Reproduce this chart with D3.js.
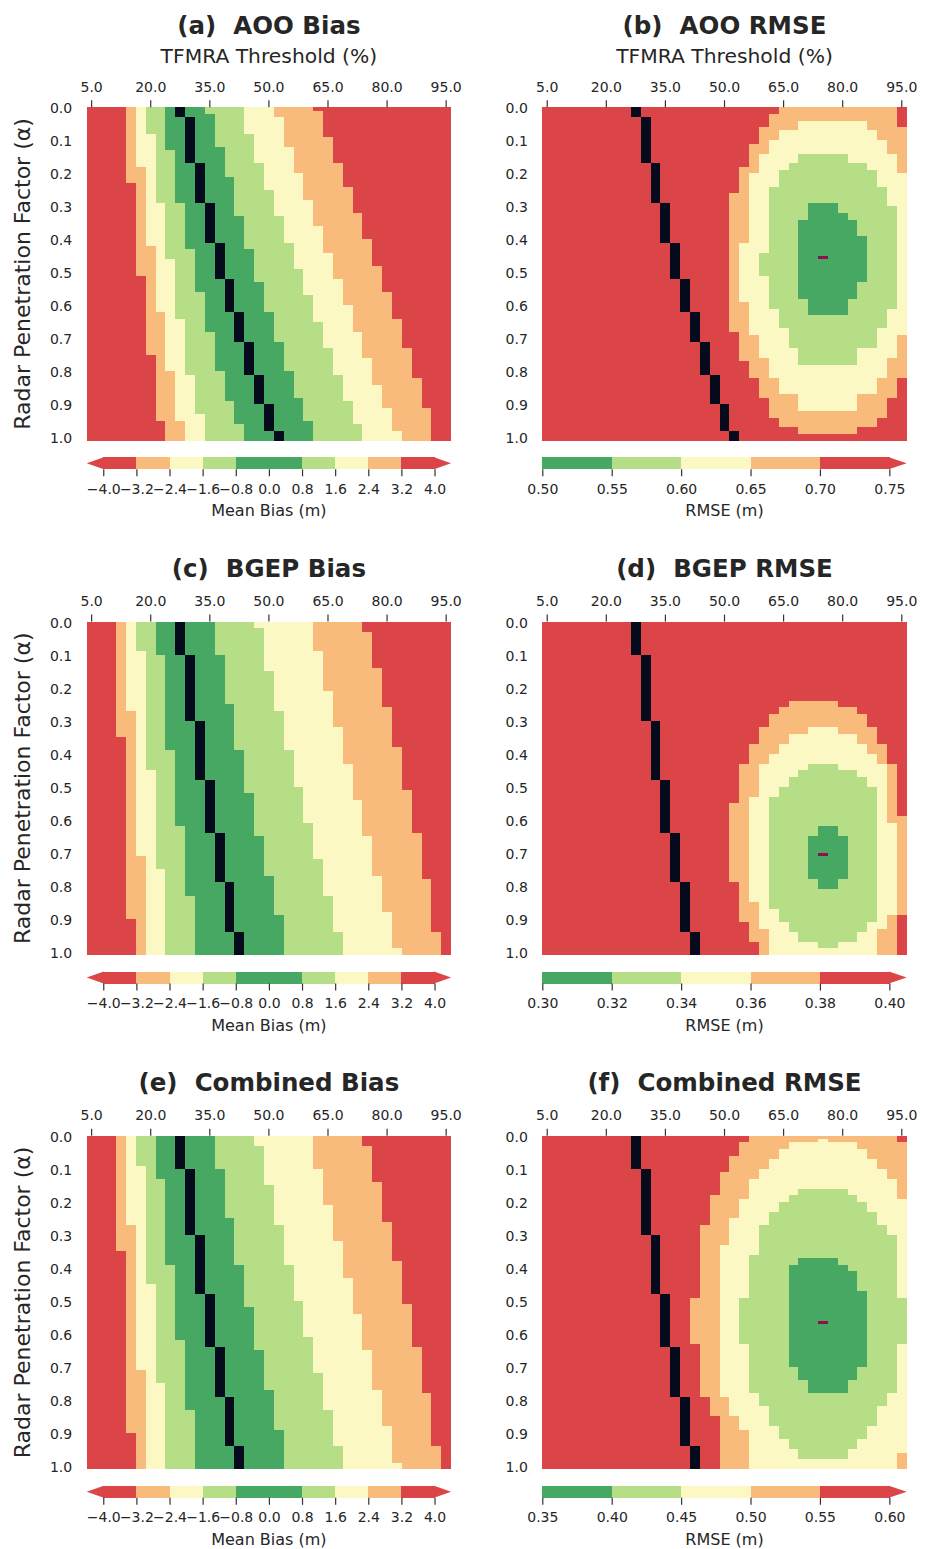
<!DOCTYPE html>
<html><head><meta charset="utf-8">
<script src="https://cdn.jsdelivr.net/npm/d3@7"></script>
<style>
body{margin:0;background:#fff}
svg{display:block}
text{font-family:"DejaVu Sans",sans-serif;fill:#262626}
</style>
</head><body>
<svg id="chart" width="929" height="1549"></svg>
<script>
// ---------------- categories ----------------
const thresholds = [5.0,7.5,10.0,12.5,15.0,17.5,20.0,22.5,25.0,27.5,30.0,32.5,35.0,37.5,40.0,42.5,45.0,47.5,50.0,52.5,55.0,57.5,60.0,62.5,65.0,67.5,70.0,72.5,75.0,77.5,80.0,82.5,85.0,87.5,90.0,92.5,95.0];
const alphas = [0.00,0.01,0.02,0.03,0.04,0.05,0.06,0.07,0.08,0.09,0.1,0.11,0.12,0.13,0.14,0.15,0.16,0.17,0.18,0.19,0.2,0.21,0.22,0.23,0.24,0.25,0.26,0.27,0.28,0.29,0.3,0.31,0.32,0.33,0.34,0.35,0.36,0.37,0.38,0.39,0.4,0.41,0.42,0.43,0.44,0.45,0.46,0.47,0.48,0.49,0.5,0.51,0.52,0.53,0.54,0.55,0.56,0.57,0.58,0.59,0.6,0.61,0.62,0.63,0.64,0.65,0.66,0.67,0.68,0.69,0.7,0.71,0.72,0.73,0.74,0.75,0.76,0.77,0.78,0.79,0.8,0.81,0.82,0.83,0.84,0.85,0.86,0.87,0.88,0.89,0.9,0.91,0.92,0.93,0.94,0.95,0.96,0.97,0.98,0.99,1.0];
const xTickValues = [5.0,20.0,35.0,50.0,65.0,80.0,95.0];
const yTickValues = [0.0,0.1,0.2,0.3,0.4,0.5,0.6,0.7,0.8,0.9,1.0];

// colour bar levels
const biasLevels = [-4.0,-3.2,-2.4,-1.6,-0.8,0.0,0.8,1.6,2.4,3.2,4.0];
const aooRmseLevels = [0.50,0.55,0.60,0.65,0.70,0.75];
const bgepRmseLevels = [0.30,0.32,0.34,0.36,0.38,0.40];
const combRmseLevels = [0.35,0.40,0.45,0.50,0.55,0.60];

// ---------------- bias class boundaries ----------------
// each boundary: [alpha row index, first threshold column index of next class]
const aooBiasEdges = [
  [[0,4],[23,5],[51,6],[75,7],[95,8]],
  [[0,5],[18,6],[42,7],[62,8],[80,9],[95,10]],
  [[0,6],[8,7],[29,8],[46,9],[64,10],[81,11],[93,12]],
  [[0,8],[13,9],[29,10],[43,11],[56,12],[68,13],[80,14],[89,15],[96,16]],
  [[0,12],[2,13],[12,14],[21,15],[33,16],[43,17],[53,18],[62,19],[71,20],[80,21],[88,22],[95,23]],
  [[0,16],[8,17],[17,18],[25,19],[33,20],[41,21],[49,22],[57,23],[65,24],[73,25],[81,26],[89,27],[96,28]],
  [[0,19],[3,20],[12,21],[20,22],[28,23],[36,24],[44,25],[52,26],[60,27],[68,28],[76,29],[84,30],[91,31],[98,32]],
  [[0,23],[1,24],[9,25],[17,26],[24,27],[32,28],[40,29],[48,30],[56,31],[64,32],[73,33],[82,34],[91,35]]
];
const aooZeroBias = [[0,9],[3,10],[17,11],[29,12],[41,13],[52,14],[62,15],[71,16],[81,17],[90,18],[98,19]];

const bgepBiasEdges = [
  [[0,3],[35,4],[90,5]],
  [[0,4],[27,5],[71,6]],
  [[0,5],[9,6],[45,7],[75,8]],
  [[0,7],[10,8],[39,9],[62,10],[83,11]],
  [[0,13],[10,14],[25,15],[39,16],[52,17],[65,18],[77,19],[89,20]],
  [[0,17],[2,18],[15,19],[27,20],[39,21],[50,22],[61,23],[72,24],[83,25],[94,26]],
  [[0,23],[9,24],[21,25],[32,26],[43,27],[54,28],[65,29],[77,30],[88,31],[99,32]],
  [[0,28],[3,29],[14,30],[26,31],[38,32],[51,33],[64,34],[78,35],[94,36]]
];
const bgepZeroBias = [[0,9],[10,10],[30,11],[48,12],[64,13],[79,14],[94,15]];

const combBiasEdges = [
  [[0,3],[35,4],[90,5]],
  [[0,4],[27,5],[71,6]],
  [[0,5],[9,6],[45,7],[75,8]],
  [[0,7],[13,8],[39,9],[62,10],[83,11]],
  [[0,13],[10,14],[25,15],[39,16],[52,17],[65,18],[77,19],[89,20]],
  [[0,17],[3,18],[15,19],[27,20],[39,21],[50,22],[61,23],[72,24],[83,25],[94,26]],
  [[0,23],[10,24],[21,25],[32,26],[43,27],[54,28],[65,29],[77,30],[88,31],[99,32]],
  [[0,28],[3,29],[14,30],[26,31],[38,32],[51,33],[64,34],[78,35],[94,36]]
];
const combZeroBias = [[0,9],[10,10],[30,11],[48,12],[64,13],[79,14],[94,15]];

// ---------------- RMSE class regions ----------------
// [row start, row end, col start, col end] (inclusive) where RMSE is below the level's upper bound
const aooRmseOrange = [[0,1,24,35],[2,5,23,35],[6,10,22,36],[11,17,21,36],[18,25,20,36],[26,67,19,36],[68,76,20,36],[77,81,21,36],[82,87,22,35],[88,93,23,34],[94,96,24,33],[97,98,26,31]];
const aooRmseYellow = [[4,6,26,32],[7,9,24,33],[10,13,23,34],[14,19,22,35],[20,40,21,36],[41,58,20,36],[59,68,21,36],[69,75,22,35],[76,81,23,34],[82,86,24,33],[87,91,26,31]];
const aooRmseLightGreen = [[14,16,26,30],[17,18,25,32],[19,23,24,33],[24,29,23,34],[30,43,23,35],[44,50,22,35],[51,60,23,35],[61,66,24,34],[67,72,25,33],[73,77,26,31]];
const aooRmseGreen = [[29,31,27,29],[32,33,27,30],[34,38,26,31],[39,52,26,32],[53,57,26,31],[58,62,27,30]];
const aooRmseMin = [45,28];

const bgepRmseOrange = [[24,25,25,29],[26,27,24,31],[28,31,23,32],[32,36,22,33],[37,42,21,34],[43,54,20,35],[55,58,19,35],[59,78,19,36],[79,88,20,36],[89,90,20,35],[91,96,21,35],[97,100,22,35]];
const bgepRmseYellow = [[32,33,27,29],[34,36,25,31],[37,39,24,32],[40,42,23,33],[43,52,22,34],[53,60,21,34],[61,84,21,35],[85,88,22,35],[89,92,22,34],[93,100,23,33]];
const bgepRmseLightGreen = [[43,44,27,29],[45,46,26,31],[47,49,25,32],[50,52,24,33],[53,86,23,33],[87,90,24,33],[91,93,25,32],[94,96,26,31],[97,98,28,29]];
const bgepRmseGreen = [[62,64,28,29],[65,77,27,30],[78,80,28,29]];
const bgepRmseMin = [70,28];

const combRmseOrange = [[0,1,21,35],[2,5,20,36],[6,10,19,36],[11,17,18,36],[18,26,17,36],[27,48,16,36],[49,62,15,36],[63,78,16,36],[79,84,17,36],[85,100,18,36]];
const combRmseYellow = [[1,1,28,28],[2,3,25,31],[4,6,24,32],[7,9,23,33],[10,12,22,34],[13,18,21,35],[19,24,20,36],[25,32,19,36],[33,78,18,36],[79,84,19,36],[85,88,20,36],[89,95,21,36],[96,100,21,35]];
const combRmseLightGreen = [[16,17,26,30],[18,19,25,31],[20,22,24,32],[23,26,23,33],[27,29,22,34],[30,35,22,35],[36,48,21,35],[49,62,20,36],[63,77,21,35],[78,81,22,34],[82,87,23,33],[88,91,24,32],[92,94,25,31],[95,97,26,30]];
const combRmseGreen = [[37,38,26,29],[39,40,25,30],[41,46,25,31],[47,69,25,32],[70,73,26,31],[74,77,27,30]];
const combRmseMin = [56,28];

// ---------------- styles ----------------
const RED = "#dc4547", ORANGE = "#f9bb7c", YELLOW = "#fbf8c4", LGREEN = "#b6de87", GREEN = "#47a863";
const ZERO_COLOR = "#050a1c", MIN_COLOR = "#8e1050";
const biasClassColors = [RED, ORANGE, YELLOW, LGREEN, GREEN, LGREEN, YELLOW, ORANGE, RED];
const biasBinColors = [RED, ORANGE, YELLOW, LGREEN, GREEN, GREEN, LGREEN, YELLOW, ORANGE, RED];
const rmseClassColors = [GREEN, LGREEN, YELLOW, ORANGE, RED];

const plotW = 364.4, plotH = 333.3;
const colX = [86.7, 542.3];
const rowY = [107.3, 621.6, 1135.8];

const svg = d3.select("#chart");

function colAt(edge, r){ let c = edge[0][1]; for (const [rr,cc] of edge) if (rr <= r) c = cc; return c; }
function biasMatrix(edges){
  return alphas.map((a,r) => thresholds.map((t,c) => edges.reduce((n,e) => n + (colAt(e,r) <= c ? 1 : 0), 0)));
}
function rmseMatrix(regionSets){
  const m = alphas.map(() => thresholds.map(() => 4));
  regionSets.forEach((regs, i) => {
    const lv = 3 - i;
    regs.forEach(([r0,r1,c0,c1]) => {
      for (let r = r0; r <= r1; r++) for (let c = c0; c <= c1; c++) m[r][c] = Math.min(m[r][c], lv);
    });
  });
  return m;
}

const x = d3.scaleBand().domain(thresholds).range([0, plotW]);
const y = d3.scaleBand().domain(alphas).range([0, plotH]);

// cell rectangle snapped to whole device pixels (avoids seams)
function cellRect(hg, ox, oy, c0, c1, r, color){
  const xa = Math.round(ox + x(thresholds[c0])), xb = Math.round(ox + x(thresholds[c1]) + x.bandwidth());
  const ya = Math.round(oy + y(alphas[r])), yb = Math.round(oy + y(alphas[r]) + y.bandwidth());
  hg.append("rect").attr("x", xa - ox).attr("y", ya - oy).attr("width", xb - xa).attr("height", yb - ya).attr("fill", color);
}

function drawMatrix(g, ox, oy, m, colors){
  const hg = g.append("g").attr("shape-rendering","crispEdges");
  m.forEach((row, r) => {
    let c0 = 0;
    for (let c = 1; c <= row.length; c++){
      if (c === row.length || row[c] !== row[c0]){
        cellRect(hg, ox, oy, c0, c - 1, r, colors[row[c0]]);
        c0 = c;
      }
    }
  });
  return hg;
}
function drawZero(hg, ox, oy, zero){
  alphas.forEach((a, r) => { const c = colAt(zero, r); cellRect(hg, ox, oy, c, c, r, ZERO_COLOR); });
}
function drawMin(hg, ox, oy, mn){ cellRect(hg, ox, oy, mn[1], mn[1], mn[0], MIN_COLOR); }

function styleAxis(ax, size){
  ax.select(".domain").remove();
  ax.attr("font-family", null).attr("font-size", null);
  ax.selectAll(".tick line").attr("stroke", "#333").attr("stroke-width", 1.2);
  ax.selectAll(".tick text").attr("fill", "#262626").style("font-size", size + "px");
}

function drawAxes(g, col, row, title){
  const ax = g.append("g").call(d3.axisTop(x).tickValues(xTickValues).tickSize(7).tickPadding(8.6).tickFormat(d3.format(".1f")));
  styleAxis(ax, 14);
  const ay = g.append("g").call(d3.axisLeft(y).tickValues(yTickValues).tickSize(0).tickPadding(14.5).tickFormat(d3.format(".1f")));
  styleAxis(ay, 14);
  const titleBase = row === 0 ? -73.8 : -44.6;
  g.append("text").attr("x", plotW/2).attr("y", titleBase).attr("text-anchor","middle")
    .style("font-size","24.5px").style("font-weight","bold").text(title);
  if (row === 0){
    g.append("text").attr("x", plotW/2).attr("y", -44).attr("text-anchor","middle")
      .style("font-size","20.3px").text("TFMRA Threshold (%)");
  }
  if (col === 0){
    g.append("text").attr("transform", `translate(${30 - colX[0]},${plotH/2}) rotate(-90)`)
      .attr("text-anchor","middle").style("font-size","22px").text("Radar Penetration Factor (α)");
  }
}

function drawColorbar(g, levels, binColors, extLeft, extRight, extColor, fmt, label){
  const cb = g.append("g").attr("transform", `translate(0,${plotH + 16.7})`);
  const h = 12, frac = 0.05;
  const nExt = (extLeft?1:0) + (extRight?1:0);
  const body = plotW / (1 + frac*nExt);
  const arrow = frac*body;
  const x0 = extLeft ? arrow : 0;
  const s = d3.scaleLinear().domain([levels[0], levels[levels.length-1]]).range([x0, x0 + body]);
  const bins = levels.slice(0, -1).map((v, i) => ({lo: v, hi: levels[i+1], color: binColors[i]}));
  cb.append("g").attr("shape-rendering","crispEdges").selectAll("rect").data(bins).join("rect")
    .attr("x", d => s(d.lo)).attr("y", 0).attr("width", d => s(d.hi) - s(d.lo) + 0.5).attr("height", h)
    .attr("fill", d => d.color);
  if (extLeft) cb.append("path").attr("d", `M${x0+0.5},0 L0,${h/2} L${x0+0.5},${h} Z`).attr("fill", extColor);
  if (extRight){ const x1 = x0 + body; cb.append("path").attr("d", `M${x1-0.5},0 L${x1+arrow},${h/2} L${x1-0.5},${h} Z`).attr("fill", extColor); }
  const ax = cb.append("g").attr("transform", `translate(0,${h})`)
    .call(d3.axisBottom(s).tickValues(levels).tickSize(7).tickPadding(7.5).tickFormat(fmt));
  styleAxis(ax, 14);
  cb.append("text").attr("x", plotW/2).attr("y", 59.2).attr("text-anchor","middle").style("font-size","16px").text(label);
}

const panels = [
  {title:"(a)\u00a0\u00a0AOO Bias", col:0, row:0, type:"bias", edges:aooBiasEdges, zero:aooZeroBias},
  {title:"(b)\u00a0\u00a0AOO RMSE", col:1, row:0, type:"rmse", regions:[aooRmseOrange, aooRmseYellow, aooRmseLightGreen, aooRmseGreen], zero:aooZeroBias, min:aooRmseMin, levels:aooRmseLevels},
  {title:"(c)\u00a0\u00a0BGEP Bias", col:0, row:1, type:"bias", edges:bgepBiasEdges, zero:bgepZeroBias},
  {title:"(d)\u00a0\u00a0BGEP RMSE", col:1, row:1, type:"rmse", regions:[bgepRmseOrange, bgepRmseYellow, bgepRmseLightGreen, bgepRmseGreen], zero:bgepZeroBias, min:bgepRmseMin, levels:bgepRmseLevels},
  {title:"(e)\u00a0\u00a0Combined Bias", col:0, row:2, type:"bias", edges:combBiasEdges, zero:combZeroBias},
  {title:"(f)\u00a0\u00a0Combined RMSE", col:1, row:2, type:"rmse", regions:[combRmseOrange, combRmseYellow, combRmseLightGreen, combRmseGreen], zero:combZeroBias, min:combRmseMin, levels:combRmseLevels}
];

panels.forEach(p => {
  const ox = colX[p.col], oy = rowY[p.row];
  const g = svg.append("g").attr("transform", `translate(${ox},${oy})`);
  if (p.type === "bias"){
    const hg = drawMatrix(g, ox, oy, biasMatrix(p.edges), biasClassColors);
    drawZero(hg, ox, oy, p.zero);
    drawColorbar(g, biasLevels, biasBinColors, true, true, RED, d3.format(".1f"), "Mean Bias (m)");
  } else {
    const hg = drawMatrix(g, ox, oy, rmseMatrix(p.regions), rmseClassColors);
    drawZero(hg, ox, oy, p.zero);
    drawMin(hg, ox, oy, p.min);
    drawColorbar(g, p.levels, rmseClassColors, false, true, RED, d3.format(".2f"), "RMSE (m)");
  }
  drawAxes(g, p.col, p.row, p.title);
});
</script>
</body></html>
